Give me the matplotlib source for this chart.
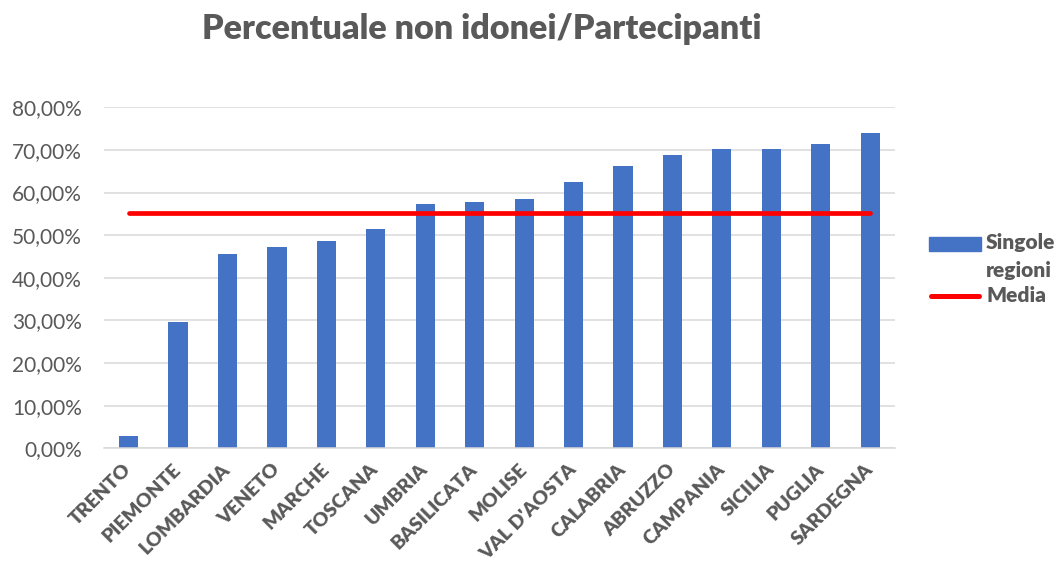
import matplotlib.pyplot as plt
import matplotlib.ticker as mticker
from matplotlib.patches import Rectangle
from matplotlib.lines import Line2D

# Dati
regioni = ["TRENTO", "PIEMONTE", "LOMBARDIA", "VENETO", "MARCHE", "TOSCANA",
           "UMBRIA", "BASILICATA", "MOLISE", "VAL D'AOSTA", "CALABRIA",
           "ABRUZZO", "CAMPANIA", "SICILIA", "PUGLIA", "SARDEGNA"]
percentuali = [3.0, 29.7, 45.5, 47.3, 48.7, 51.4, 57.2, 57.7, 58.6, 62.5,
               66.2, 68.8, 70.1, 70.2, 71.3, 74.0]
media = 55.1

grigio = "#595959"
blu = "#4472C4"
rosso = "#FF0000"
W, H = 1059, 568

plt.rcParams["font.family"] = ["Lato", "DejaVu Sans"]

fig = plt.figure(figsize=(W / 100, H / 100), dpi=100)
ax = fig.add_axes([0.0982, 0.2107, 0.7468, 0.6004])

x = list(range(len(regioni)))
ax.bar(x, percentuali, width=0.39, color=blu, zorder=2)
ax.plot([x[0], x[-1]], [media, media], color=rosso, lw=3.4,
        solid_capstyle="round", zorder=3)

ax.set_xlim(-0.5, len(regioni) - 0.5)
ax.set_ylim(0, 80)
ax.yaxis.set_major_locator(mticker.MultipleLocator(10))
ax.yaxis.set_major_formatter(
    mticker.FuncFormatter(lambda v, p: f"{v:.2f}%".replace(".", ",")))
ax.grid(axis="y", color="#d9d9d9", lw=1.1, zorder=0)
ax.set_axisbelow(True)
for s in ["top", "right", "left"]:
    ax.spines[s].set_visible(False)
ax.spines["bottom"].set_color("#d9d9d9")
ax.spines["bottom"].set_linewidth(1.1)
ax.tick_params(axis="both", length=0, colors=grigio)
ax.tick_params(axis="y", labelsize=15, pad=16)

ax.set_xticks(x)
ax.set_xticklabels(regioni, rotation=45, ha="right", va="center", rotation_mode="anchor",
                   fontsize=14, fontweight="heavy", color=grigio)
ax.tick_params(axis="x", pad=13)

# titolo, adattato alla larghezza del riferimento
title = fig.text(481.5 / W, 1 - 39.3 / H, "Percentuale non idonei/Partecipanti",
                 ha="center", va="baseline", fontsize=22, fontweight="heavy", color=grigio)
fig.canvas.draw()
w = title.get_window_extent().width
title.set_fontsize(22 * 560 / w)

# legenda disegnata a mano
fig.patches.append(Rectangle((929 / W, 1 - 251 / H), 52 / W, 14 / H,
                             transform=fig.transFigure, color=blu))
fig.lines.append(Line2D([931 / W, 979 / W], [1 - 295.7 / H] * 2, transform=fig.transFigure,
                        color=rosso, lw=3.6, solid_capstyle="round"))
kw = dict(ha="left", va="center", fontsize=15, fontweight="heavy", color=grigio)
fig.text(986 / W, 1 - 243 / H, "Singole", **kw)
fig.text(986 / W, 1 - 271 / H, "regioni", **kw)
fig.text(986 / W, 1 - 295 / H, "Media", **kw)

plt.savefig("out.png", dpi=100)
